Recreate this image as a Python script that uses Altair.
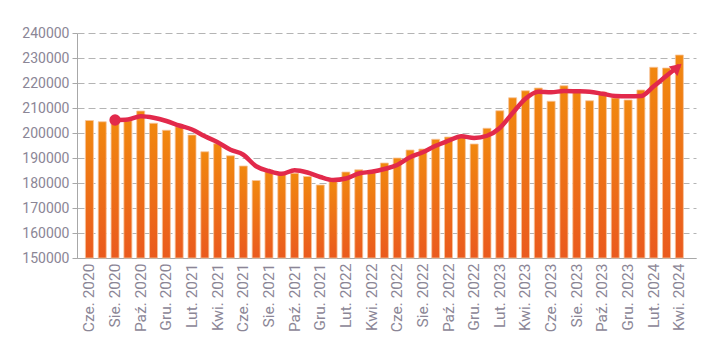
import altair as alt
import pandas as pd

month_abbr = ["Sty.", "Lut.", "Mar.", "Kwi.", "Maj.", "Cze.", "Lip.", "Sie.", "Wrz.", "Paź.", "Lis.", "Gru."]
start_month_index = 5   # Cze.
start_year = 2020
n_months = 47

months = []
for i in range(n_months):
    m = (start_month_index + i) % 12
    y = start_year + (start_month_index + i) // 12
    months.append(f"{month_abbr[m]} {y}")

bar_values = [
    205000, 204500, 205500, 204900, 208800, 203900, 201100, 202500, 199200, 192500,
    195700, 190900, 186800, 181000, 185200, 183600, 183900, 182600, 179200, 180900,
    184400, 185300, 184300, 188000, 190000, 193200, 193600, 197500, 198400, 198200,
    195600, 201900, 208900, 214100, 216900, 218000, 212700, 218900, 216800, 212900,
    216400, 214000, 213200, 217200, 226300, 226000, 231200,
]

trend_values = [
    None, None,
    205200, 205400, 206700, 206100, 204800, 203000, 201400, 198700, 196300, 193300,
    191300, 186700, 184800, 183700, 185100, 184200, 182400, 181200, 181800, 183800,
    184500, 185600, 187200, 190300, 192300, 194900, 196900, 198700, 198000, 198900,
    202000, 208000, 213700, 216500, 216300, 216800, 216700, 216500, 215700, 214800,
    214700, 214800, 218700, 222900, 227000,
]

y_min = 150000
y_max = 240000
y_step = 10000
y_ticks = list(range(y_min, y_max + 1, y_step))
axis_labels = months[::2]

df = pd.DataFrame({"month": months, "bar": bar_values, "trend": trend_values})
trend_df = df.dropna(subset=["trend"])
start_df = trend_df.iloc[[0]]
end_df = trend_df.iloc[[-1]]

FONT = "Roboto"
LABEL_COLOR = "#8B8696"
LINE_COLOR = "#E2294B"

x_scale = alt.Scale(paddingInner=0.376, paddingOuter=0.82, align=0.4)
x_axis = alt.Axis(
    values=axis_labels,
    labelAngle=-90,
    labelAlign="right",
    labelBaseline="middle",
    labelFont=FONT,
    labelFontSize=15.5,
    labelColor=LABEL_COLOR,
    labelPadding=5,
    labelOverlap=False,
    ticks=False,
    domainColor="#A8A8A8",
    domainWidth=1,
    grid=False,
    title=None,
)

y_scale = alt.Scale(domain=[y_min, y_max], nice=False, zero=False)
y_axis = alt.Axis(
    values=y_ticks,
    format="d",
    labelFont=FONT,
    labelFontSize=14,
    labelColor=LABEL_COLOR,
    labelPadding=3,
    labelOverlap=False,
    labelBound=False,
    tickSize=5,
    tickColor="#A8A8A8",
    domainColor="#A8A8A8",
    grid=True,
    gridColor="#B4B4B4",
    gridDash=[7, 4],
    gridWidth=1,
    title=None,
)

def xe():
    return alt.X("month:N", sort=months, scale=x_scale, axis=x_axis)

def ye(field):
    return alt.Y(field, scale=y_scale, axis=y_axis)

bars = alt.Chart(df).mark_bar(
    color=alt.Gradient(
        gradient="linear",
        stops=[
            alt.GradientStop(color="#F1880F", offset=0),
            alt.GradientStop(color="#EA5A1E", offset=1),
        ],
        x1=0, x2=0, y1=0, y2=1,
    ),
    stroke="#F7C49A",
    strokeWidth=0.8,
).encode(x=xe(), y=ye("bar:Q"), y2=alt.datum(y_min))

line = alt.Chart(trend_df).mark_line(
    color=LINE_COLOR, strokeWidth=4.5, interpolate="monotone", strokeCap="butt"
).encode(x=xe(), y=ye("trend:Q"))

dot = alt.Chart(start_df).mark_point(
    shape="circle", size=130, filled=True, color=LINE_COLOR, opacity=1
).encode(x=xe(), y=ye("trend:Q"))

arrow = alt.Chart(end_df).mark_point(
    shape="triangle-up", size=170, filled=True, color=LINE_COLOR, opacity=1,
    angle=48, xOffset=-2, yOffset=2,
).encode(x=xe(), y=ye("trend:Q"))

chart = alt.layer(bars, line, dot, arrow).properties(
    width=619,
    height=225,
    background="white",
    autosize=alt.AutoSizeParams(type="none"),
    padding={"left": 77, "top": 33, "right": 20, "bottom": 89},
).configure_view(stroke=None)

chart.save("out.html", embed_options={"renderer": "svg", "actions": False})
